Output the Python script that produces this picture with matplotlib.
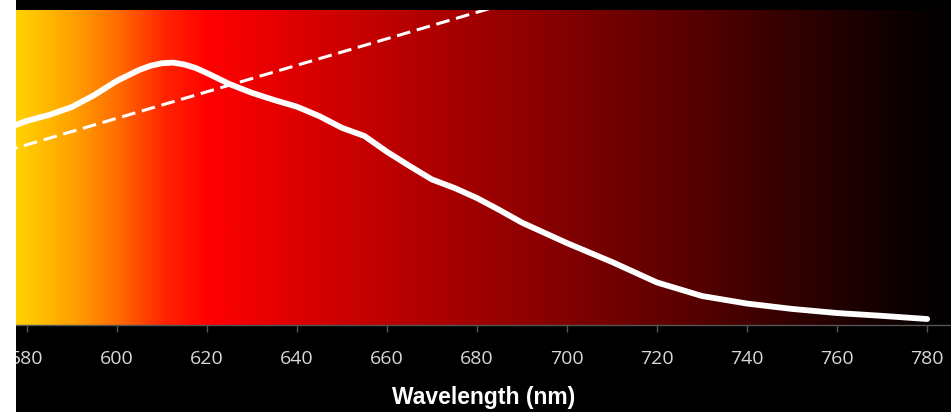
import numpy as np
import matplotlib.pyplot as plt
from matplotlib.colors import LinearSegmentedColormap
from matplotlib.patches import Rectangle

# emission spectrum (arbitrary units 0..100)
wavelength = [577.6, 580, 585, 590, 595, 600, 605, 607.5, 610, 612.5, 615, 617.5,
              620, 625, 630, 635, 640, 645, 650, 655, 660, 665, 670, 675, 680, 685,
              690, 700, 710, 720, 730, 740, 750, 760, 770, 780]
intensity = [63.5, 64.8, 66.7, 69.2, 73.0, 77.5, 81.0, 82.3, 83.1, 83.3, 82.7, 81.6,
             80.0, 76.5, 73.7, 71.4, 69.3, 66.3, 62.6, 60.0, 55.0, 50.5, 46.2, 43.5,
             40.3, 36.5, 32.5, 26.0, 20.0, 13.5, 9.2, 6.8, 5.1, 3.8, 2.9, 1.9]

# dashed straight line
dash_wl = [575, 700]
dash_val = [55.1, 107.7]

xticks = [580, 600, 620, 640, 660, 680, 700, 720, 740, 760, 780]

W, H = 951, 412
fig = plt.figure(figsize=(W / 100, H / 100), dpi=100, facecolor='black')

ax = fig.add_axes([16 / W, (H - 325) / H, (W - 16) / W, (325 - 10) / H])
xmin, xmax = 577.6, 785.3
ax.set_xlim(xmin, xmax)
ax.set_ylim(0, 100)

# background colour gradient (yellow -> red -> black)
stops = [(577.6, (1.0, 0.82, 0.0)), (590, (1.0, 0.63, 0.0)), (600, (1.0, 0.42, 0.0)),
         (610, (1.0, 0.15, 0.0)), (620, (1.0, 0.0, 0.0)), (650, (0.8, 0.0, 0.0)),
         (700, (0.51, 0.0, 0.0)), (720, (0.39, 0.0, 0.0)), (750, (0.2, 0.0, 0.0)),
         (770, (0.08, 0.0, 0.0)), (785.3, (0.0, 0.0, 0.0))]
cmap = LinearSegmentedColormap.from_list(
    'spec', [((w - xmin) / (xmax - xmin), c) for w, c in stops])
grad = np.linspace(0, 1, 1000).reshape(1, -1)
ax.imshow(grad, cmap=cmap, aspect='auto', extent=[xmin, xmax, 0, 100],
          interpolation='bilinear', zorder=0)

ax.plot(wavelength, intensity, color='white', lw=4.2, solid_capstyle='round',
        solid_joinstyle='round', zorder=3)
ax.plot(dash_wl, dash_val, color='white', lw=2.2, dashes=(4.5, 2.2), zorder=2)

ax.set_xticks(xticks)
ax.set_yticks([])
for s in ['left', 'right', 'top']:
    ax.spines[s].set_visible(False)
ax.spines['bottom'].set_color('#555555')
ax.spines['bottom'].set_linewidth(1)
ax.tick_params(axis='x', colors='#555555', length=5, width=1, pad=13,
               labelcolor='#d8d8d8', labelsize=14)
for lbl in ax.get_xticklabels():
    lbl.set_family('Open Sans')
ax.set_xlabel('Wavelength (nm)', color='white', fontsize=16.5, fontweight='bold',
              family='Liberation Sans', labelpad=13)

# white strip on the left edge, on top of everything
fig.add_artist(Rectangle((0, 0), 16 / W, 1, transform=fig.transFigure,
                         facecolor='white', edgecolor='none', zorder=10))

fig.savefig('out.png', dpi=100, facecolor='black')
